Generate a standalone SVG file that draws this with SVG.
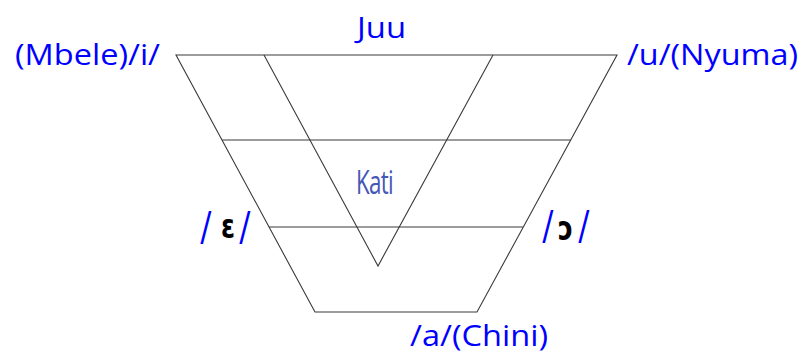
<svg xmlns="http://www.w3.org/2000/svg" width="803" height="358" viewBox="0 0 803 358">
<style>
.ln{fill:none;stroke:#3a3a3a;stroke-width:1.1}
.lbl{font-family:"Open Sans","Noto Sans",sans-serif;fill:#0000ff;font-size:30px}
.sl{font-family:"Open Sans","Noto Sans",sans-serif;fill:#0000ff;font-size:32px}
.ipa{font-family:"Open Sans","DejaVu Sans",sans-serif;fill:#000000;font-size:34px;font-weight:600}
.kati{font-family:"Open Sans","Noto Sans",sans-serif;fill:#4557b5;font-size:32px;font-weight:500;letter-spacing:-1px}
</style>
<rect width="803" height="358" fill="#ffffff"/>
<g id="connectors">
<polygon class="ln" points="176,55 617,55 477,312 315,312"/>
<line class="ln" x1="222" y1="140" x2="571" y2="140"/>
<line class="ln" x1="269" y1="227" x2="523" y2="227"/>
<polyline class="ln" points="264,55 378,266 493,55"/>
</g>
<g id="juu"><text class="lbl" x="357" y="38" textLength="49" lengthAdjust="spacingAndGlyphs">Juu</text></g>
<g id="mbele"><text class="lbl" x="15" y="65" textLength="145" lengthAdjust="spacingAndGlyphs">(Mbele)/i/</text></g>
<g id="nyuma"><text class="lbl" x="627" y="65" textLength="171" lengthAdjust="spacingAndGlyphs">/u/(Nyuma)</text></g>
<g id="kati"><text class="kati" x="356" y="194" textLength="37" lengthAdjust="spacingAndGlyphs">Kati</text></g>
<g id="e">
<text class="sl" transform="translate(200,244) scale(1,1.45)">/</text>
<text class="ipa" x="221" y="238" textLength="14" lengthAdjust="spacingAndGlyphs">ɛ</text>
<text class="sl" transform="translate(239,244) scale(1,1.45)">/</text>
</g>
<g id="o">
<text class="sl" transform="translate(542,243) scale(1,1.45)">/</text>
<text class="ipa" x="558" y="240" textLength="15" lengthAdjust="spacingAndGlyphs">ɔ</text>
<text class="sl" transform="translate(578,243) scale(1,1.45)">/</text>
</g>
<g id="chini"><text class="lbl" x="410" y="346" textLength="138" lengthAdjust="spacingAndGlyphs">/a/(Chini)</text></g>
</svg>
